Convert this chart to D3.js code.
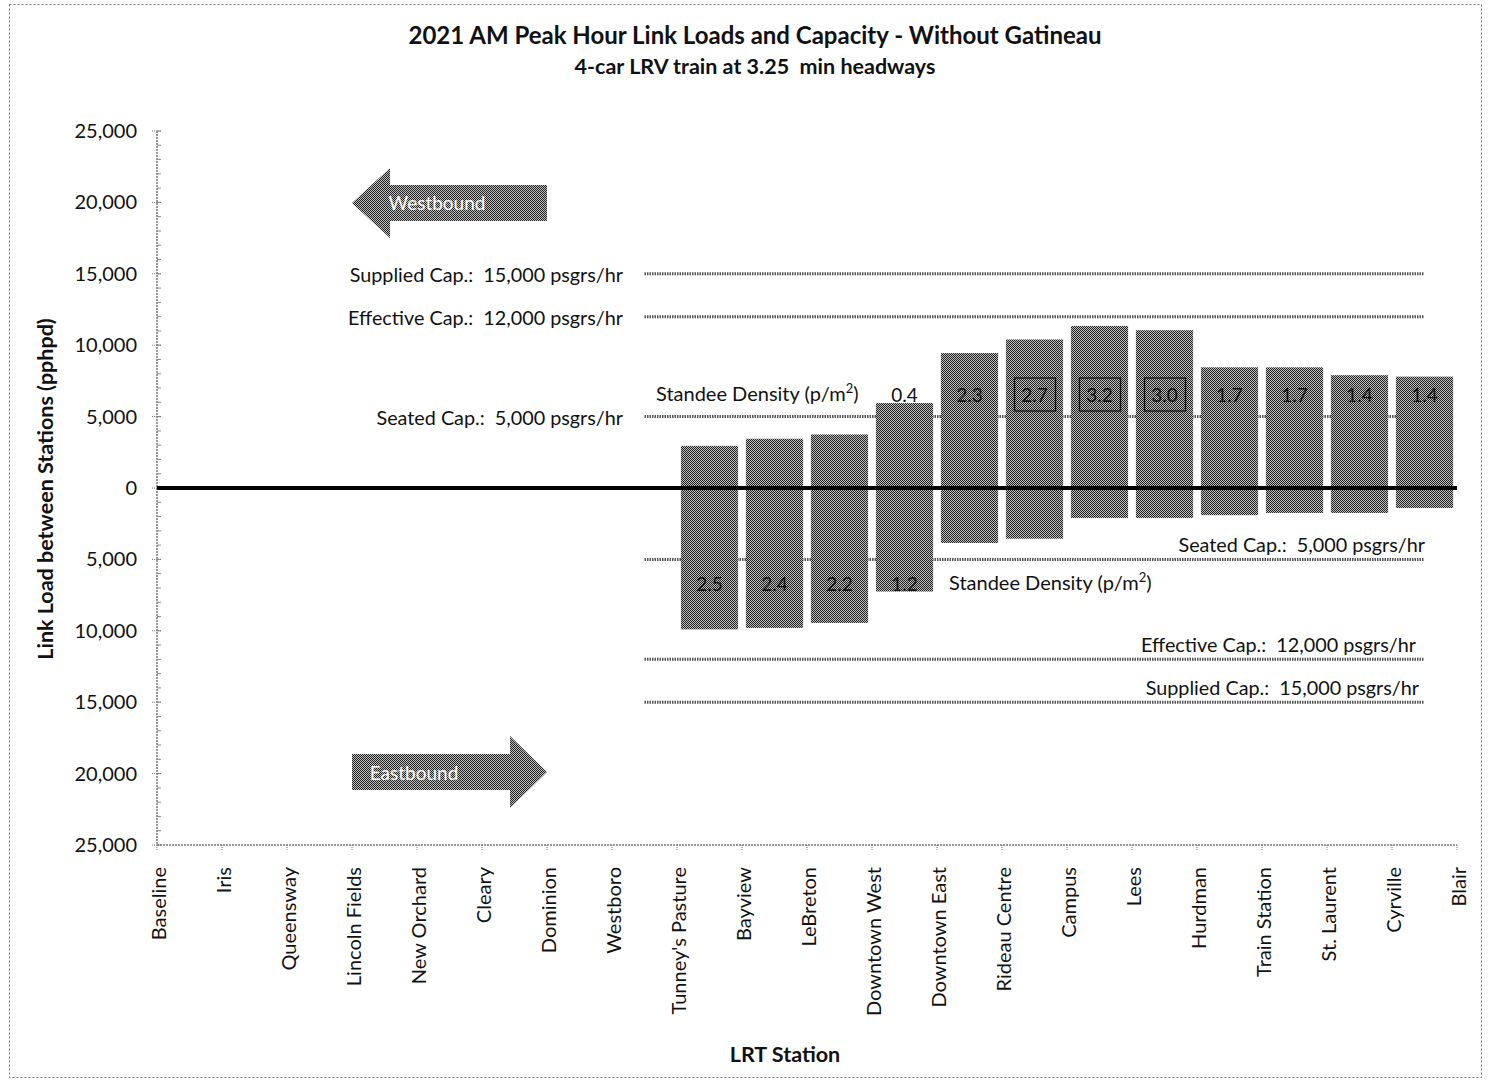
<!DOCTYPE html>
<html><head><meta charset="utf-8">
<script src="https://cdn.jsdelivr.net/npm/d3@7"></script>
<style>
body{margin:0;background:#fff;}
text{font-family:Lato,"Open Sans",sans-serif;fill:#111;white-space:pre;}
</style></head>
<body><svg id="c" width="1488" height="1082"></svg>
<script>
const stations = ["Baseline","Iris","Queensway","Lincoln Fields","New Orchard","Cleary","Dominion","Westboro","Tunney's Pasture","Bayview","LeBreton","Downtown West","Downtown East","Rideau Centre","Campus","Lees","Hurdman","Train Station","St. Laurent","Cyrville","Blair"];
const linkFrom = ["Tunney's Pasture","Bayview","LeBreton","Downtown West","Downtown East","Rideau Centre","Campus","Lees","Hurdman","Train Station","St. Laurent","Cyrville"];
const linkTo = ["Bayview","LeBreton","Downtown West","Downtown East","Rideau Centre","Campus","Lees","Hurdman","Train Station","St. Laurent","Cyrville","Blair"];
const westbound = [2950,3450,3750,5950,9450,10400,11350,11050,8450,8450,7900,7800];
const eastbound = [9900,9800,9450,7250,3850,3550,2100,2100,1900,1750,1750,1400];
const westDensity = [null,null,null,0.4,2.3,2.7,3.2,3.0,1.7,1.7,1.4,1.4];
const eastDensity = [2.5,2.4,2.2,1.2,null,null,null,null,null,null,null,null];
const capValues = [5000,12000,15000];
const capNames = ["Seated Cap.:","Effective Cap.:","Supplied Cap.:"];
const yTicks = [-25000,-20000,-15000,-10000,-5000,0,5000,10000,15000,20000,25000];

const svg = d3.select("#c");
const defs = svg.append("defs");
const pat = defs.append("pattern").attr("id","hatch").attr("width",2).attr("height",2).attr("patternUnits","userSpaceOnUse");
pat.append("rect").attr("width",2).attr("height",2).attr("fill","#bdbdbd");
pat.append("rect").attr("width",1).attr("height",1).attr("fill","#222");
pat.append("rect").attr("x",1).attr("y",1).attr("width",1).attr("height",1).attr("fill","#222");

// outer border
svg.append("rect").attr("x",9.5).attr("y",4.5).attr("width",1472).attr("height",1073)
  .attr("fill","none").attr("stroke","#777").attr("stroke-dasharray","2,2");

const x = d3.scalePoint().domain(stations).range([157,1457]);
const y = d3.scaleLinear().domain([-25000,25000]).range([845,131]);
const step = x.step();
const fmt = d3.format(",");

// titles
svg.append("text").attr("x",755).attr("y",44).attr("text-anchor","middle").attr("font-weight","bold").attr("font-size",24).text("2021 AM Peak Hour Link Loads and Capacity - Without Gatineau");
svg.append("text").attr("x",755).attr("y",74).attr("text-anchor","middle").attr("font-weight","bold").attr("font-size",21.5).text("4-car LRV train at 3.25  min headways");

// y axis
const yAxisG = svg.append("g").attr("transform","translate(157,0)");
yAxisG.append("line").attr("y1",y(25000)).attr("y2",y(-25000)).attr("stroke","#777").attr("stroke-width",1.5).attr("stroke-dasharray","2,1");
const minor = d3.range(-25000,25001,1000);
yAxisG.selectAll(".mn").data(minor).join("line").attr("x1",0).attr("x2",4).attr("y1",d=>y(d)).attr("y2",d=>y(d)).attr("stroke","#888");
yAxisG.selectAll(".mj").data(yTicks).join("line").attr("x1",-5).attr("x2",5).attr("y1",d=>y(d)).attr("y2",d=>y(d)).attr("stroke","#777").attr("stroke-dasharray","1,1");
yAxisG.selectAll(".yl").data(yTicks).join("text").attr("x",-20).attr("y",d=>y(d)).attr("dy","0.35em").attr("text-anchor","end").attr("font-size",20).text(d=>fmt(Math.abs(d)));
svg.append("text").attr("transform","translate(53,489) rotate(-90)").attr("text-anchor","middle").attr("font-weight","bold").attr("font-size",21.5).text("Link Load between Stations (pphpd)");

// x axis
svg.append("line").attr("x1",157).attr("x2",1457).attr("y1",845).attr("y2",845).attr("stroke","#777").attr("stroke-width",1.5).attr("stroke-dasharray","2,1");
svg.selectAll(".xt").data(stations).join("line").attr("x1",d=>x(d)).attr("x2",d=>x(d)).attr("y1",845).attr("y2",851).attr("stroke","#777").attr("stroke-dasharray","1,1");
svg.selectAll(".xl").data(stations).join("text")
  .attr("transform",d=>`translate(${x(d)+2},867) rotate(-90)`).attr("text-anchor","end").attr("dy","0.35em").attr("font-size",20).text(d=>d);
svg.append("text").attr("x",785).attr("y",1062).attr("text-anchor","middle").attr("font-weight","bold").attr("font-size",21.5).text("LRT Station");

// capacity lines
const lx1 = (x("Westboro")+x("Tunney's Pasture"))/2, lx2 = (x("Cyrville")+x("Blair"))/2;
const capG = svg.append("g");
[1,-1].forEach(sgn=>{
  capG.selectAll(null).data(capValues).join("line").attr("x1",lx1).attr("x2",lx2)
    .attr("y1",d=>y(sgn*d)).attr("y2",d=>y(sgn*d)).attr("stroke","#555").attr("stroke-width",3).attr("stroke-dasharray","1.5,1");
});
// upper labels (left of lines)
capG.selectAll(".ul").data(capValues).join("text").attr("x",623).attr("y",d=>y(d)+1).attr("dy","0.35em").attr("text-anchor","end").attr("font-size",19.8)
  .text((d,i)=>`${capNames[i]}  ${fmt(d)} psgrs/hr`);
// lower labels (above lines, right)
capG.selectAll(".ll").data(capValues).join("text").attr("x",(d,i)=>[1425,1416,1419][i]).attr("y",d=>y(-d)-7).attr("text-anchor","end").attr("font-size",19.8)
  .text((d,i)=>`${capNames[i]}  ${fmt(d)} psgrs/hr`);

const sd = (g,xx,yy)=>{const t=g.append("text").attr("x",xx).attr("y",yy).attr("dy","0.35em").attr("font-size",20);
  t.append("tspan").text("Standee Density (p/m");t.append("tspan").attr("font-size",13).attr("dy","-0.6em").text("2");t.append("tspan").attr("dy","0.4em").text(")");};
sd(svg,656,394);
sd(svg,949,583);

// bars
const bw = step*0.88;
const links = linkFrom.map((f,i)=>({from:f,to:linkTo[i],w:westbound[i],e:eastbound[i],wd:westDensity[i],ed:eastDensity[i]}));
const cx = d=>(x(d.from)+x(d.to))/2;
svg.selectAll(".bw").data(links).join("rect").attr("x",d=>cx(d)-bw/2).attr("width",bw).attr("y",d=>y(d.w)).attr("height",d=>y(0)-y(d.w)).attr("fill","url(#hatch)");
svg.selectAll(".be").data(links).join("rect").attr("x",d=>cx(d)-bw/2).attr("width",bw).attr("y",y(0)).attr("height",d=>y(-d.e)-y(0)).attr("fill","url(#hatch)");

// zero line
svg.append("line").attr("x1",157).attr("x2",1457).attr("y1",y(0)).attr("y2",y(0)).attr("stroke","#000").attr("stroke-width",4);

// density labels
const wl = links.filter(d=>d.wd!=null);
svg.selectAll(".wbox").data(wl.filter(d=>d.wd>2.5)).join("rect").attr("x",d=>cx(d)-20).attr("y",378).attr("width",41).attr("height",33).attr("fill","none").attr("stroke","#111").attr("stroke-width",1.3);
svg.selectAll(".wdl").data(wl).join("text").attr("x",d=>cx(d)).attr("y",395).attr("dy","0.35em").attr("text-anchor","middle").attr("font-size",19).text(d=>d.wd.toFixed(1));
svg.selectAll(".edl").data(links.filter(d=>d.ed!=null)).join("text").attr("x",d=>cx(d)).attr("y",584).attr("dy","0.35em").attr("text-anchor","middle").attr("font-size",19).text(d=>d.ed.toFixed(1));

// arrows
svg.append("path").attr("d","M352,203 L390,168 L390,185 L547,185 L547,221 L390,221 L390,238 Z").attr("fill","url(#hatch)");
svg.append("text").attr("x",437).attr("y",203).attr("dy","0.35em").attr("text-anchor","middle").attr("font-size",19).style("fill","#fff").text("Westbound");
svg.append("path").attr("d","M352,754 L510,754 L510,736 L547,772 L510,808 L510,790 L352,790 Z").attr("fill","url(#hatch)");
svg.append("text").attr("x",414).attr("y",773).attr("dy","0.35em").attr("text-anchor","middle").attr("font-size",19).style("fill","#fff").text("Eastbound");
</script></body></html>
